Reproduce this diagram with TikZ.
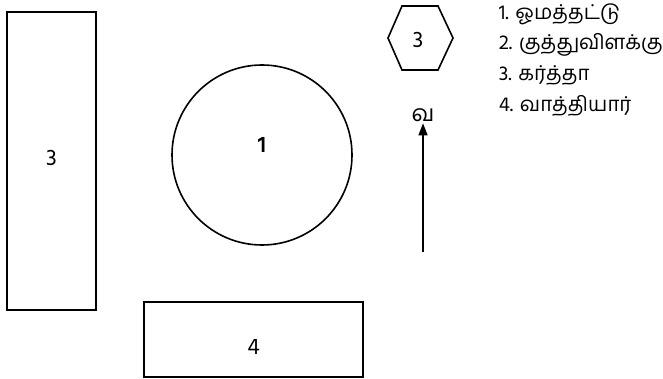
\documentclass[tikz,border=0pt]{standalone}
\usepackage{fontspec}
\setmainfont{Hind Madurai}[Script=Tamil]
\usetikzlibrary{arrows.meta,calc,positioning}

\begin{document}
\begin{tikzpicture}[x=1pt,y=-1pt,>={Triangle[length=12pt,width=9pt]},line width=1.6pt,
  box/.style={draw,inner sep=0pt},
  num/.style={font=\fontsize{23}{25}\selectfont},
  legend/.style={anchor=west,inner sep=0pt,font=\fontsize{20.5}{23}\selectfont}]
\useasboundingbox (0,0) rectangle (663,379);
\node[box,minimum width=89,minimum height=298,label={[num,yshift=3pt]center:3}] (side) at (51.5,161) {};
\node[box,minimum width=219,minimum height=75,label={[num,yshift=-7pt]center:4}] (bottom) at (253.5,339.5) {};
\node[box,circle,minimum size=180,label={[num,font=\fontsize{23}{25}\selectfont\bfseries,yshift=10pt]center:1}] (pot) at (262,155) {};
\node[num] (hex) at (418,40) {3};
\draw ($(hex)+(-30,-2)$) -- ($(hex)+(-16,-34)$) -- ($(hex)+(20,-34)$) -- ($(hex)+(35,-2)$)
  -- ($(hex)+(20,30)$) -- ($(hex)+(-16,30)$) -- cycle;
\node[num,inner sep=1pt] (north) at (423,115) {வ};
\coordinate (tail) at (423,252);
\draw[->] (tail) -- (north);
% legend
\foreach \i/\txt in {1/ஓமத்தட்டு,2/குத்துவிளக்கு,3/கர்த்தா,4/வாத்தியார்}
  \node[legend] (item\i) at (498,{14+30.5*(\i-1)}) {\i. \txt};
\end{tikzpicture}
\end{document}
